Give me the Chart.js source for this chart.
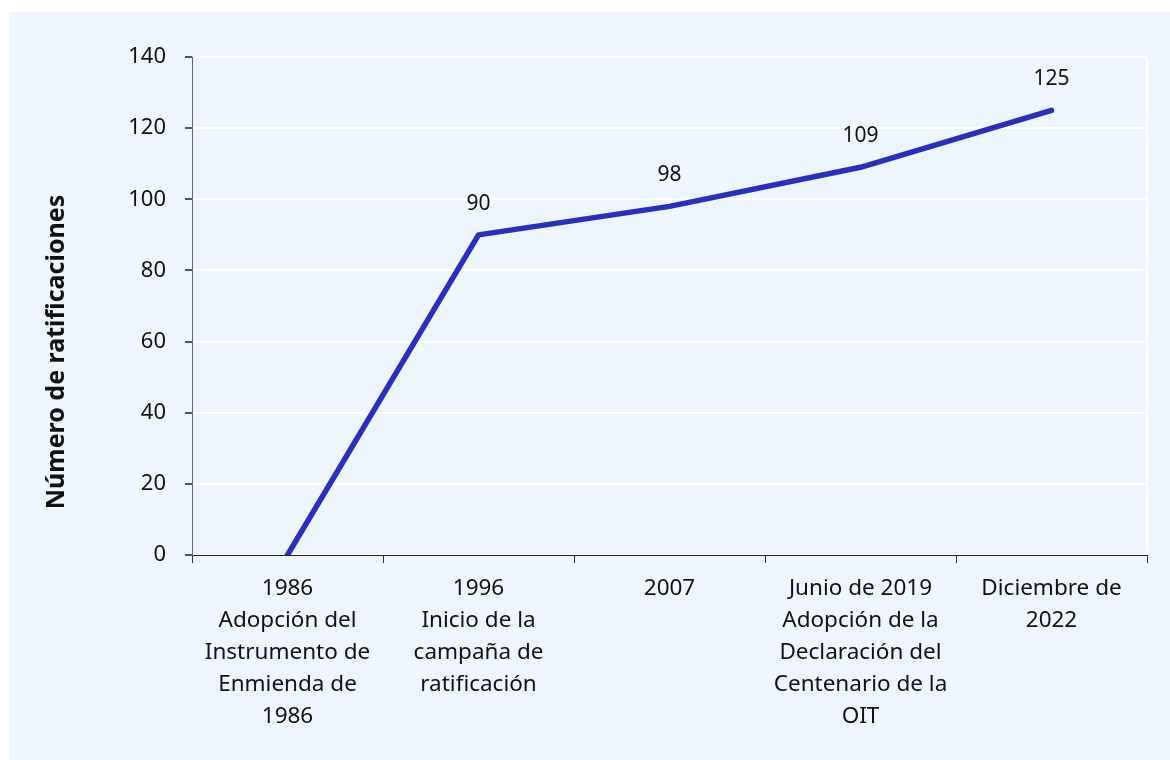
<!DOCTYPE html>
<html><head><meta charset="utf-8">
<script src="https://cdn.jsdelivr.net/npm/chart.js@4/dist/chart.umd.min.js"></script>
<style>html,body{margin:0;padding:0;background:#fff;}#wrap{width:1170px;height:760px;position:relative;}</style>
</head><body><div id="wrap"><canvas id="c" width="1170" height="760"></canvas></div>
<script>
const categories = [
  ["1986","Adopción del","Instrumento de","Enmienda de","1986"],
  ["1996","Inicio de la","campaña de","ratificación"],
  ["2007"],
  ["Junio de 2019","Adopción de la","Declaración del","Centenario de la","OIT"],
  ["Diciembre de","2022"]
];
const ratifications = [0, 90, 98, 109, 125];
const yTicks = [0, 20, 40, 60, 80, 100, 120, 140];
const yTitle = "Número de ratificaciones";

const FONT = "'Noto Sans', 'Open Sans', sans-serif";
const panelPlugin = {
  id: 'panel',
  beforeDraw(chart) {
    const ctx = chart.ctx;
    ctx.save();
    ctx.fillStyle = '#eef5fc';
    ctx.fillRect(9, 12, chart.width - 9, chart.height - 12);
    ctx.restore();
  },
  afterDraw(chart) {
    const ctx = chart.ctx, a = chart.chartArea;
    ctx.save();
    ctx.strokeStyle = '#ffffff';
    ctx.lineWidth = 2;
    ctx.beginPath(); ctx.moveTo(a.right, a.top); ctx.lineTo(a.right, a.bottom); ctx.stroke();
    ctx.translate(57, 352);
    ctx.rotate(-Math.PI / 2);
    ctx.fillStyle = '#111';
    ctx.font = "bold 25px " + FONT;
    ctx.textAlign = 'center'; ctx.textBaseline = 'middle';
    ctx.fillText(yTitle, 0, 0);
    ctx.restore();
    const meta = chart.getDatasetMeta(0);
    ctx.save();
    ctx.font = "21px " + FONT;
    ctx.fillStyle = '#111';
    ctx.textAlign = 'center'; ctx.textBaseline = 'middle';
    meta.data.forEach((pt, i) => {
      const v = chart.data.datasets[0].data[i];
      if (v === 0) return;
      ctx.fillText(String(v), pt.x, pt.y - 31);
    });
    ctx.restore();
  }
};

new Chart(document.getElementById('c'), {
  type: 'line',
  data: {
    labels: categories,
    datasets: [{
      data: ratifications,
      borderColor: '#2a2fc0',
      borderWidth: 5.5,
      pointRadius: 0,
      tension: 0,
      borderCapStyle: 'round',
      borderJoinStyle: 'round',
      fill: false
    }]
  },
  options: {
    responsive: false,
    animation: false,
    layout: { padding: { left: 0, top: 57, right: 23, bottom: 0 } },
    plugins: { legend: { display: false }, tooltip: { enabled: false } },
    scales: {
      x: {
        offset: true,
        grid: { display: true, drawOnChartArea: false, offset: true, tickColor: '#333', tickLength: 8, lineWidth: 1 },
        border: { display: true, color: '#222', width: 1 },
        ticks: { color: '#111', font: { family: FONT, size: 22.5, lineHeight: 1.42 }, maxRotation: 0, autoSkip: false, padding: 10 },
        afterFit(s) { s.height = 205; }
      },
      y: {
        min: 0, max: 140,
        afterBuildTicks(s) { s.ticks = yTicks.map(v => ({ value: v })); },
        grid: { color: '#ffffff', lineWidth: 2, tickColor: '#555', tickLength: 7 },
        border: { display: true, color: '#666', width: 1 },
        ticks: { color: '#111', font: { family: FONT, size: 22 }, padding: 19 },
        afterFit(s) { s.width = 192; }
      }
    }
  },
  plugins: [panelPlugin]
});
</script>
</body></html>
